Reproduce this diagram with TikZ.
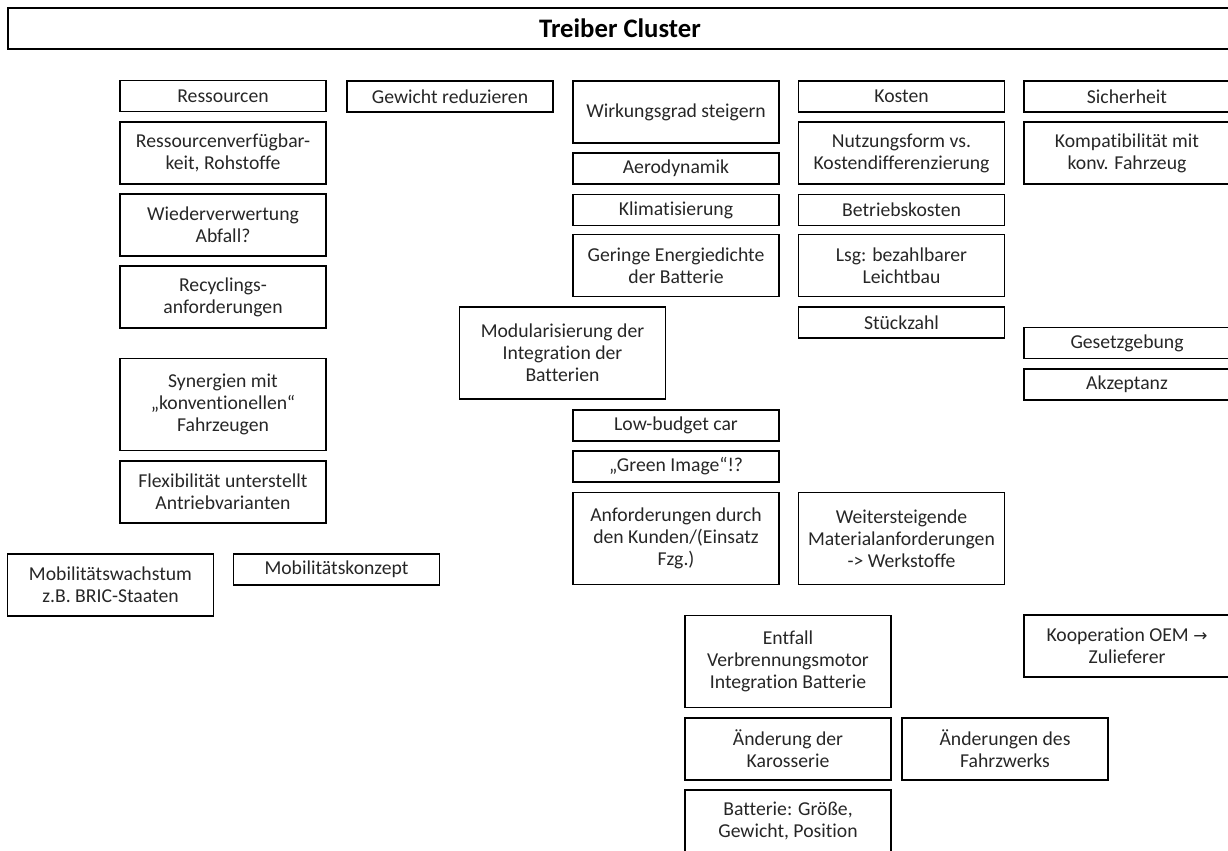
\documentclass[tikz,border=0pt]{standalone}
\usepackage{fontspec}
\setmainfont[Ligatures=NoCommon]{Carlito}
\newfontfamily\symfont{DejaVu Sans}

\begin{document}
\begin{tikzpicture}[
    x=0.025cm, y=-0.025cm,
    box/.style={
        draw,
        line width=0.95pt,
        minimum width=5.15cm,
        minimum height=0.775cm,
        inner sep=0pt,
        align=center,
        text=black!85,
        font=\fontsize{14}{15.6}\selectfont
    },
    boxtwo/.style={box, minimum height=1.55cm},
    boxthree/.style={box, minimum height=2.3cm},
    titlebox/.style={
        draw,
        line width=0.95pt,
        minimum width=30.6cm,
        minimum height=1.025cm,
        font=\fontsize{19}{22}\selectfont\bfseries
    }
]
\clip (0,0) rectangle (1228,850);

% Kopfzeile
\node[titlebox] (title) at (620, 28.5) {Treiber Cluster};

% Spalte 1: Ressourcen
\node[box] (ressourcen) at (223, 96) {Ressourcen};
\node[boxtwo] (verfuegbar) at (223, 153) {Ressourcenverfügbar-\\keit, Rohstoffe};
\node[boxtwo] (wiederverw) at (223, 225) {Wiederverwertung\\Abfall?};
\node[boxtwo] (recycling) at (223, 297) {Recyclings-\\anforderungen};
\node[boxthree] (synergien) at (223, 404.5) {Synergien mit\\„konventionellen“\\Fahrzeugen};
\node[boxtwo] (flexibel) at (223, 492) {Flexibilität unterstellt\\Antriebvarianten};

% Mobilitaet unten links
\node[boxtwo] (wachstum) at (110.5, 585) {Mobilitätswachstum\\z.B. BRIC-Staaten};
\node[box] (konzept) at (336.5, 569.5) {Mobilitätskonzept};

% Spalte 2: Gewicht
\node[box] (gewicht) at (450, 96.5) {Gewicht reduzieren};
\node[boxthree] (modular) at (562.5, 353) {Modularisierung der\\Integration der\\Batterien};

% Spalte 3: Wirkungsgrad
\node[boxtwo] (wirkung) at (676, 112) {Wirkungsgrad steigern};
\node[box] (aero) at (676, 168.5) {Aerodynamik};
\node[box] (klima) at (676, 210) {Klimatisierung};
\node[boxtwo] (energie) at (676, 265.5) {Geringe Energiedichte\\der Batterie};
\node[box] (lowbudget) at (676, 425.5) {Low-budget car};
\node[box] (green) at (676, 466.5) {„Green Image“!?};
\node[boxthree] (kunden) at (676, 538.5) {Anforderungen durch\\den Kunden/(Einsatz\\Fzg.)};

% Spalte 4: Kosten
\node[box] (kosten) at (901.5, 96.5) {Kosten};
\node[boxtwo] (nutzung) at (901.5, 153) {Nutzungsform vs.\\Kostendifferenzierung};
\node[box] (betrieb) at (901.5, 210) {Betriebskosten};
\node[boxtwo] (leichtbau) at (901.5, 265.5) {Lsg: bezahlbarer\\Leichtbau};
\node[box] (stueck) at (901.5, 322.5) {Stückzahl};
\node[boxthree] (werkstoff) at (901.5, 538.5) {Weitersteigende\\Materialanforderungen\\-> Werkstoffe};

% Spalte 5: Sicherheit
\node[box] (sicherheit) at (1127, 96.5) {Sicherheit};
\node[boxtwo] (kompatibel) at (1127, 153) {Kompatibilität mit\\konv. Fahrzeug};
\node[box] (gesetz) at (1127, 343) {Gesetzgebung};
\node[box] (akzeptanz) at (1127, 384.5) {Akzeptanz};

% Unten: Fahrzeugstruktur
\node[boxthree] (entfall) at (788, 661.5) {Entfall\\Verbrennungsmotor\\Integration Batterie};
\node[boxtwo] (kooperation) at (1127, 646) {Kooperation OEM {\symfont\fontsize{12}{14}\selectfont →}\\Zulieferer};
\node[boxtwo] (karosserie) at (788, 749) {Änderung der\\Karosserie};
\node[boxtwo] (fahrwerk) at (1005, 749) {Änderungen des\\Fahrzwerks};
\node[boxtwo] (batterie) at (788, 821) {Batterie: Größe,\\Gewicht, Position};

\end{tikzpicture}
\end{document}
